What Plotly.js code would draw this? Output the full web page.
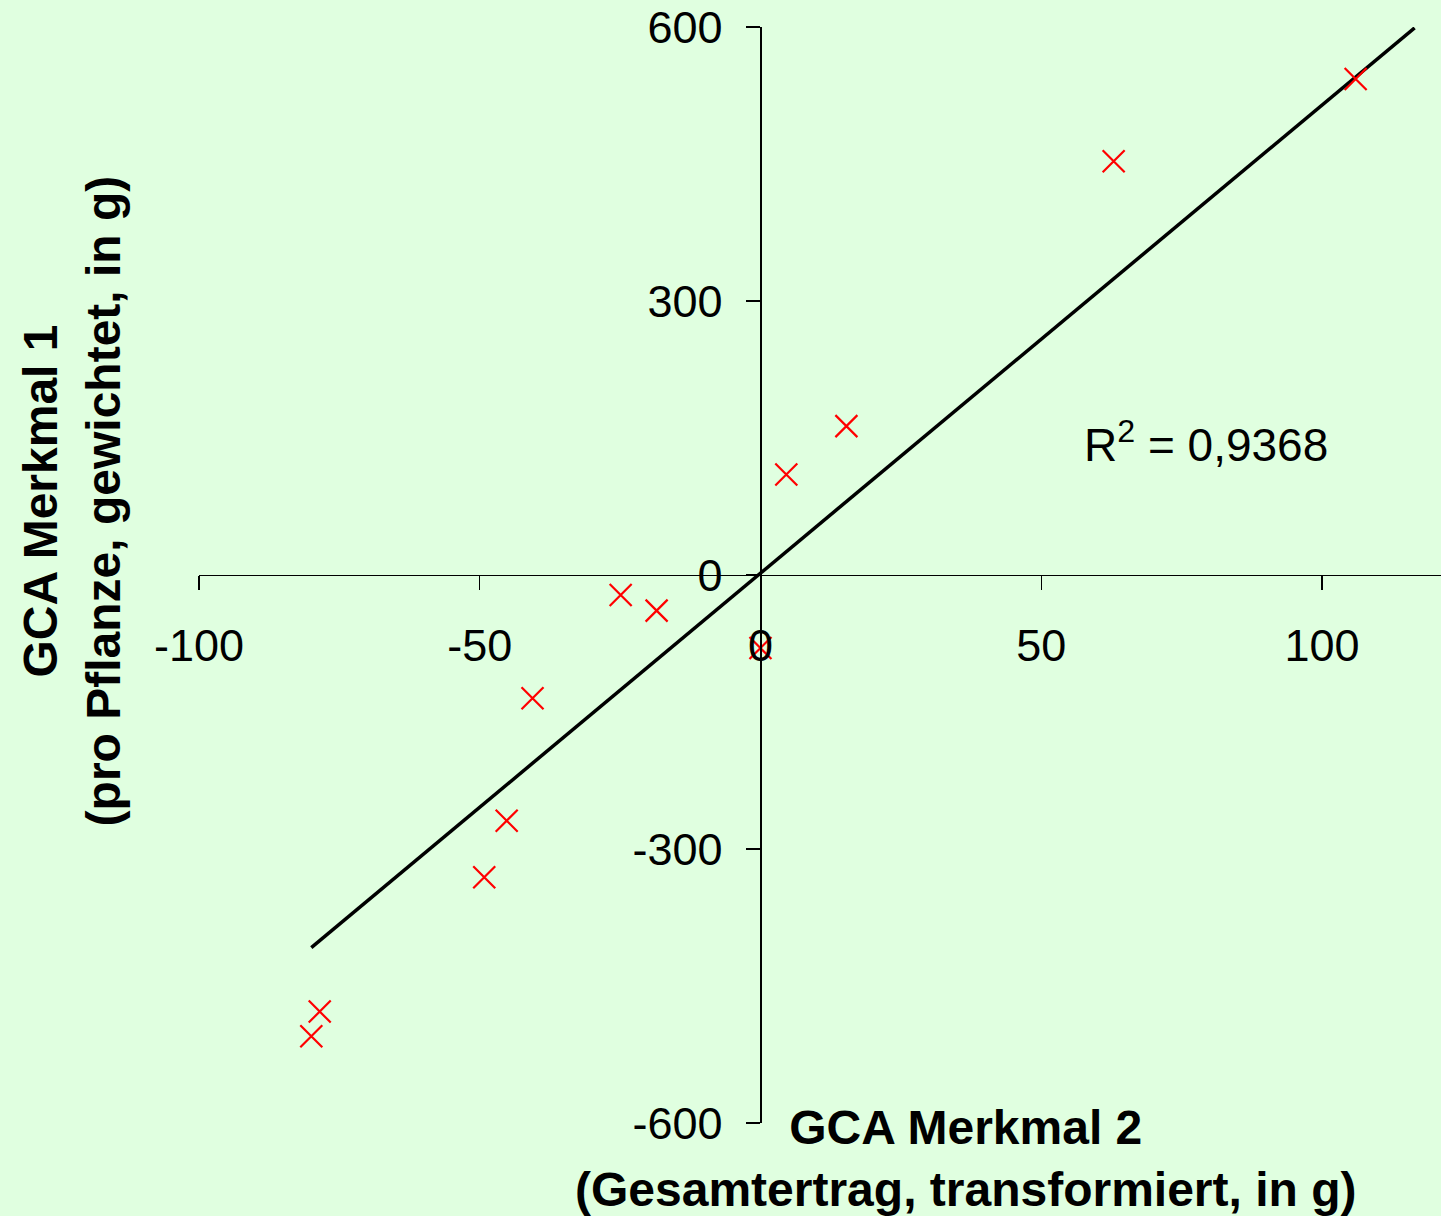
<!DOCTYPE html>
<html>
<head>
<meta charset="utf-8">
<script src="https://cdn.plot.ly/plotly-3.0.1.min.js"></script>
<style>
html,body{margin:0;padding:0;}
body{width:1441px;height:1216px;background:#e0ffe0;}
#chart{width:1441px;height:1216px;}
</style>
</head>
<body>
<div id="chart"></div>
<script>
// Data
var merkmal2 = [-80, -78.5, -49.2, -45.2, -40.6, -24.9, -18.5, 0, 4.6, 15.3, 62.9, 106];
var merkmal1 = [-505, -478, -331, -269, -135, -22, -39, -80, 110, 163, 453, 543];
var trendX = [-80, 116.5];
var trendY = [-408, 599];
var xTicks = [-100, -50, 0, 50, 100];
var yTicks = [-600, -300, 0, 300, 600];
var r2Label = 'R<sup>2</sup> = 0,9368';

var FONT = 'Arial, "Liberation Sans", sans-serif';

var traces = [
  {
    x: trendX, y: trendY, mode: 'lines', type: 'scatter',
    line: {color: '#000000', width: 3.5}, hoverinfo: 'skip', showlegend: false
  },
  {
    x: merkmal2, y: merkmal1, mode: 'markers', type: 'scatter',
    marker: {symbol: 'x-thin-open', size: 22, color: '#ff0000', line: {color: '#ff0000', width: 2.2}},
    cliponaxis: false, showlegend: false
  }
];

var layout = {
  width: 1441, height: 1216,
  margin: {l: 199, r: 0, t: 27, b: 93, pad: 0},
  paper_bgcolor: '#e0ffe0',
  plot_bgcolor: 'rgba(0,0,0,0)',
  showlegend: false,
  font: {family: FONT, color: '#000000'},
  xaxis: {
    range: [-100, 121.2], tickvals: xTicks, ticktext: xTicks.map(String),
    showgrid: false, zeroline: false, showline: true, linecolor: '#000000', linewidth: 1.3,
    ticks: 'outside', ticklen: 14, tickwidth: 1.3, tickcolor: '#000000',
    anchor: 'free', position: 0.5, ticklabelstandoff: 17,
    tickfont: {family: FONT, size: 45, color: '#000000'}
  },
  yaxis: {
    range: [-600, 600], tickvals: yTicks, ticktext: yTicks.map(String),
    showgrid: false, zeroline: false, showline: true, linecolor: '#000000', linewidth: 1.3,
    ticks: 'outside', ticklen: 14, tickwidth: 1.3, tickcolor: '#000000',
    anchor: 'free', position: 100 / 221.2, ticklabelstandoff: 15,
    tickfont: {family: FONT, size: 45, color: '#000000'}
  },
  annotations: [
    {
      text: r2Label, xref: 'x', yref: 'y', x: 79.4, y: 146, showarrow: false,
      xanchor: 'center', yanchor: 'middle', font: {family: FONT, size: 46, color: '#000000'}
    },
    {
      text: '<b>GCA Merkmal 2</b><br><b>(Gesamtertrag, transformiert, in g)</b>',
      xref: 'paper', yref: 'paper', x: 0.6176, y: -0.032, showarrow: false,
      xanchor: 'center', yanchor: 'middle', align: 'center',
      font: {family: FONT, size: 48, color: '#000000'}
    },
    {
      text: '<b>GCA Merkmal 1</b><br><b>(pro Pflanze, gewichtet, in g)</b>',
      xref: 'paper', yref: 'paper', x: -0.1023, y: 0.568, showarrow: false,
      textangle: -90, xanchor: 'center', yanchor: 'middle', align: 'center',
      font: {family: FONT, size: 48, color: '#000000'}
    }
  ]
};

Plotly.newPlot('chart', traces, layout, {displayModeBar: false, staticPlot: true});
</script>
</body>
</html>
